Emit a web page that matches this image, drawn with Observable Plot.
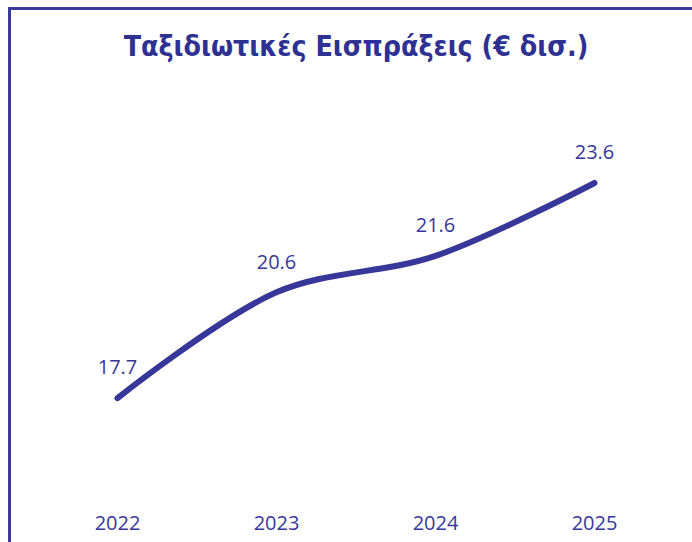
<!DOCTYPE html>
<html>
<head>
<meta charset="utf-8">
<script src="https://cdn.jsdelivr.net/npm/d3@7"></script>
<script src="https://cdn.jsdelivr.net/npm/@observablehq/plot@0.6"></script>
<style>
  html, body { margin: 0; padding: 0; background: #fff; }
  #wrap { position: relative; width: 692px; height: 542px; overflow: hidden; }
  #frame { position: absolute; left: 8px; top: 7px; width: 700px; height: 600px;
           border-left: 3px solid #3b3b9b; border-top: 3px solid #3b3b9b; }
  #title { position: absolute; left: 0; width: 712px; top: 30px; text-align: center;
           font-family: "DejaVu Sans Condensed", "DejaVu Sans", sans-serif; font-weight: bold;
           font-stretch: condensed; font-size: 28.3px; line-height: 34px; color: #2e3192; }
  #chart { position: absolute; left: 0; top: 0; }
</style>
</head>
<body>
<div id="wrap">
  <div id="frame"></div>
  <div id="title">Ταξιδιωτικές Εισπράξεις (€ δισ.)</div>
  <div id="chart"></div>
</div>
<script>
const years = ["2022", "2023", "2024", "2025"];
const receipts = [17.7, 20.6, 21.6, 23.6];
const labels = ["17.7", "20.6", "21.6", "23.6"];

const data = years.map((y, i) => ({year: y, value: receipts[i], label: labels[i]}));
const ink = "#37379a";

const chart = Plot.plot({
  width: 692,
  height: 542,
  marginLeft: 117,
  marginRight: 98,
  marginTop: 95,
  marginBottom: 46,
  style: {background: "transparent", fontFamily: "'Open Sans', sans-serif"},
  x: {type: "point", domain: years, padding: 0, label: null},
  y: {domain: [15, 26], axis: null},
  marks: [
    Plot.axisX({tickSize: 0, tickPadding: 19, fontSize: 20, color: ink, label: null}),
    Plot.line(data, {x: "year", y: "value", stroke: ink, strokeWidth: 6,
                     strokeLinecap: "round", curve: "catmull-rom"}),
    Plot.text(data, {x: "year", y: "value", text: "label", dy: -30,
                     fontSize: 20, fill: ink})
  ]
});
document.getElementById("chart").appendChild(chart);
</script>
</body>
</html>
